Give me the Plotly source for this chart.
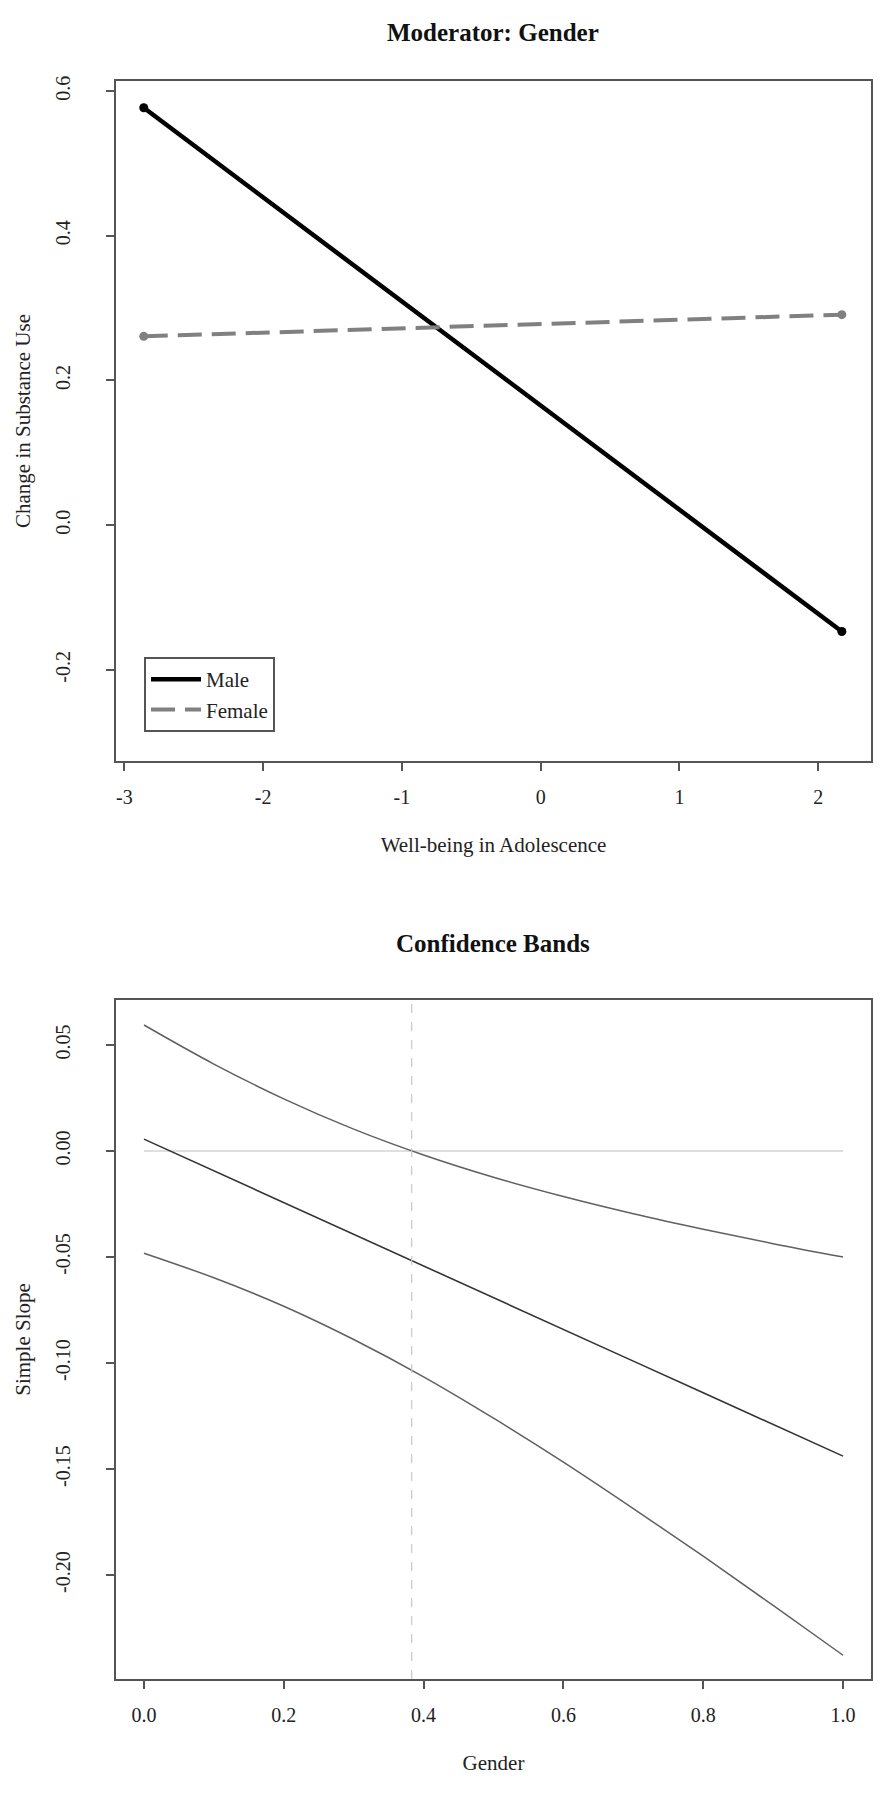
import plotly.graph_objects as go

# ---- Panel 1: Moderator: Gender ----
wellbeing = [-2.86, 2.17]
male = [0.577, -0.147]
female = [0.261, 0.291]

top_xticks = [-3, -2, -1, 0, 1, 2]
top_xlabels = ["-3", "-2", "-1", "0", "1", "2"]
top_yticks = [-0.2, 0.0, 0.2, 0.4, 0.6]
top_ylabels = ["-0.2", "0.0", "0.2", "0.4", "0.6"]

# ---- Panel 2: Confidence Bands (simple slope of gender) ----
gender = [0.0, 0.1, 0.2, 0.3, 0.4, 0.5, 0.6, 0.7, 0.8, 0.9, 1.0]
slope = [0.0056, -0.0094, -0.0243, -0.0393, -0.0542, -0.0692,
         -0.0841, -0.0991, -0.1140, -0.1290, -0.1439]
upper = [0.0594, 0.0410, 0.0246, 0.0103, -0.0019, -0.0124,
         -0.0215, -0.0296, -0.0369, -0.0437, -0.0500]
lower = [-0.0482, -0.0598, -0.0732, -0.0889, -0.1065, -0.1260,
         -0.1467, -0.1686, -0.1911, -0.2143, -0.2378]
zero_x = [0.0, 1.0]
zero_y = [0.0, 0.0]
jn_point = 0.383  # region of significance boundary

bot_xticks = [0.0, 0.2, 0.4, 0.6, 0.8, 1.0]
bot_xlabels = ["0.0", "0.2", "0.4", "0.6", "0.8", "1.0"]
bot_yticks = [-0.20, -0.15, -0.10, -0.05, 0.00, 0.05]
bot_ylabels = ["-0.20", "-0.15", "-0.10", "-0.05", "0.00", "0.05"]

FONT = "Liberation Serif, Times New Roman, serif"
AXIS_COLOR = "#555555"

fig = go.Figure()

# Male / Female lines (legend entries)
fig.add_trace(go.Scatter(
    x=wellbeing, y=male, mode="lines", name="Male",
    line=dict(color="black", width=4.5), xaxis="x", yaxis="y"
))
fig.add_trace(go.Scatter(
    x=wellbeing, y=female, mode="lines", name="Female",
    line=dict(color="#808080", width=4, dash="24px,10px"), xaxis="x", yaxis="y"
))
# end points
fig.add_trace(go.Scatter(
    x=wellbeing, y=male, mode="markers", showlegend=False,
    marker=dict(color="black", size=9), xaxis="x", yaxis="y"
))
fig.add_trace(go.Scatter(
    x=wellbeing, y=female, mode="markers", showlegend=False,
    marker=dict(color="#808080", size=9), xaxis="x", yaxis="y"
))

# Confidence bands
fig.add_trace(go.Scatter(
    x=zero_x, y=zero_y, mode="lines", showlegend=False,
    line=dict(color="#d4d4d4", width=1.5), xaxis="x2", yaxis="y2"
))
fig.add_trace(go.Scatter(
    x=gender, y=upper, mode="lines", showlegend=False,
    line=dict(color="#606060", width=1.5, shape="spline"), xaxis="x2", yaxis="y2"
))
fig.add_trace(go.Scatter(
    x=gender, y=slope, mode="lines", showlegend=False,
    line=dict(color="#333333", width=1.6), xaxis="x2", yaxis="y2"
))
fig.add_trace(go.Scatter(
    x=gender, y=lower, mode="lines", showlegend=False,
    line=dict(color="#606060", width=1.5, shape="spline"), xaxis="x2", yaxis="y2"
))

fig.add_shape(
    type="line", xref="x2", yref="y2 domain",
    x0=jn_point, x1=jn_point, y0=0, y1=1,
    line=dict(color="#c8c8c8", width=1.2, dash="dash")
)


def axis_style(ticks, labels, rng, domain, anchor, title, is_y=False):
    d = dict(
        domain=domain, anchor=anchor, range=rng,
        tickmode="array", tickvals=ticks, ticktext=labels,
        showline=True, mirror=True, linecolor=AXIS_COLOR, linewidth=2,
        ticks="outside", ticklen=8, tickwidth=1.5, tickcolor=AXIS_COLOR,
        showgrid=False, zeroline=False, automargin=False,
        tickfont=dict(family=FONT, size=20, color="#222"),
        title=dict(text=title, font=dict(family=FONT, size=21, color="#222")),
    )
    if is_y:
        d["tickangle"] = -90
        d["ticklabelstandoff"] = 28
        d["title"]["standoff"] = 16
    else:
        d["ticklabelstandoff"] = 9
        d["title"]["standoff"] = 30
    return d


xdom = [108 / 892, 863 / 892]
fig.update_layout(
    width=892, height=1800,
    margin=dict(l=0, r=0, t=0, b=0),
    paper_bgcolor="white", plot_bgcolor="white",
    font=dict(family=FONT, color="#222"),
    xaxis=axis_style(top_xticks, top_xlabels, [-3.06, 2.38], xdom, "y",
                     "Well-being in Adolescence"),
    yaxis=axis_style(top_yticks, top_ylabels, [-0.326, 0.614],
                     [1 - 753 / 1800, 1 - 73 / 1800], "x",
                     "Change in Substance Use", is_y=True),
    xaxis2=axis_style(bot_xticks, bot_xlabels, [-0.04, 1.04], xdom, "y2",
                      "Gender"),
    yaxis2=axis_style(bot_yticks, bot_ylabels, [-0.249, 0.0712],
                      [1 - 1671 / 1800, 1 - 992 / 1800], "x2",
                      "Simple Slope", is_y=True),
    legend=dict(
        x=136 / 892, y=1 - 649 / 1800, xanchor="left", yanchor="top",
        bordercolor=AXIS_COLOR, borderwidth=2, bgcolor="white",
        font=dict(family=FONT, size=21, color="#222"),
        itemwidth=50, tracegroupgap=6,
    ),
    annotations=[
        dict(text="<b>Moderator: Gender</b>", x=485 / 892, y=1 - 25 / 1800,
             xref="paper", yref="paper", xanchor="center", yanchor="middle",
             showarrow=False, font=dict(family=FONT, size=25, color="#111")),
        dict(text="<b>Confidence Bands</b>", x=485 / 892, y=1 - 935 / 1800,
             xref="paper", yref="paper", xanchor="center", yanchor="middle",
             showarrow=False, font=dict(family=FONT, size=25, color="#111")),
    ],
)

fig.write_html("out.html")
